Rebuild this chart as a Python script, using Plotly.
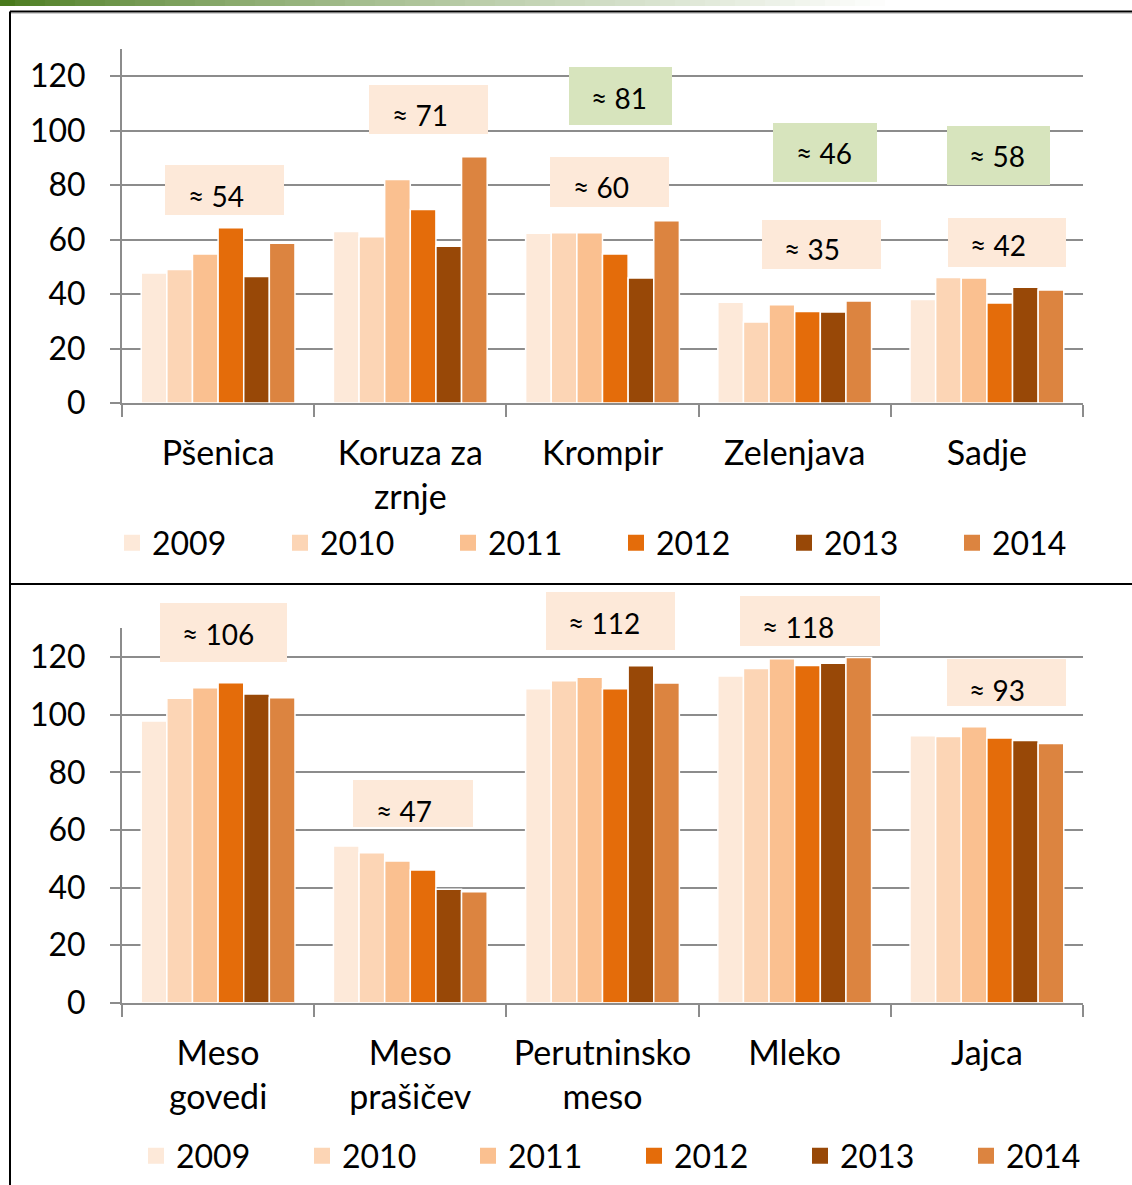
import plotly.graph_objects as go

# ---------------- data ----------------
years = ["2009", "2010", "2011", "2012", "2013", "2014"]
colors = ["#fde9d9", "#fcd5b5", "#fac090", "#e46c0a", "#984807", "#dc8440"]

crops = ["Pšenica", "Koruza za<br>zrnje", "Krompir", "Zelenjava", "Sadje"]
crop_2009 = [47.7, 62.9, 62.3, 37.0, 38.0]
crop_2010 = [49.0, 61.0, 62.5, 29.7, 46.1]
crop_2011 = [54.7, 82.0, 62.5, 36.1, 45.9]
crop_2012 = [64.3, 71.0, 54.7, 33.6, 36.7]
crop_2013 = [46.4, 57.5, 45.9, 33.4, 42.5]
crop_2014 = [58.6, 90.4, 66.9, 37.4, 41.5]

animal = ["Meso<br>govedi", "Meso<br>prašičev", "Perutninsko<br>meso", "Mleko", "Jajca"]
animal_2009 = [97.8, 54.4, 109.0, 113.4, 92.7]
animal_2010 = [105.7, 52.1, 111.8, 116.0, 92.4]
animal_2011 = [109.4, 49.2, 113.0, 119.4, 95.8]
animal_2012 = [111.1, 46.1, 109.0, 117.1, 91.9]
animal_2013 = [107.2, 39.4, 117.0, 117.9, 91.0]
animal_2014 = [105.9, 38.5, 111.0, 119.9, 90.0]

crop_avg_labels = ["≈ 54", "≈ 71", "≈ 60", "≈ 35", "≈ 42"]
crop_ref_labels = ["≈ 81", "≈ 46", "≈ 58"]          # Krompir, Zelenjava, Sadje
animal_avg_labels = ["≈ 106", "≈ 47", "≈ 112", "≈ 118", "≈ 93"]

y_ticks = [0, 20, 40, 60, 80, 100, 120]

crop_series = [crop_2009, crop_2010, crop_2011, crop_2012, crop_2013, crop_2014]
animal_series = [animal_2009, animal_2010, animal_2011, animal_2012, animal_2013, animal_2014]

# ---------------- layout helpers ----------------
W, H = 1132, 1185
FONT = "Lato, 'Open Sans', sans-serif"
GRID = "#8c8c8c"
PEACH = "#fde9d9"
GREEN = "#d7e4bd"


def fx(p):
    return p / W


def fy(p):
    return 1 - p / H


fig = go.Figure()

panels = [(crops, crop_series, "x", "y", "legend"),
          (animal, animal_series, "x2", "y2", "legend2")]
for cats, series, xa, ya, lg in panels:
    for i, yr in enumerate(years):
        fig.add_trace(go.Bar(
            x=cats, y=series[i], name=yr, marker_color=colors[i],
            marker_line=dict(color="white", width=1.5),
            xaxis=xa, yaxis=ya, showlegend=False, legendgroup=lg + yr,
        ))
    # legend entries (square swatches like the original)
    for i, yr in enumerate(years):
        fig.add_trace(go.Scatter(
            x=[None], y=[None], mode="markers", name=yr,
            marker=dict(symbol="square", size=18, color=colors[i],
                        line=dict(width=0)),
            xaxis=xa, yaxis=ya, legend=lg, legendgroup=lg + yr,
            hoverinfo="skip",
        ))

axis_common = dict(
    showline=True, linecolor=GRID, linewidth=2,
    ticks="outside", tickcolor=GRID, tickwidth=2,
    tickfont=dict(family=FONT, size=32, color="black"),
    automargin=False,
)
xcommon = dict(axis_common, type="category", tickson="boundaries", ticklen=12,
               showgrid=False, ticklabelstandoff=19,
               tickfont=dict(family=FONT, size=34, color="black"))
ycommon = dict(axis_common, range=[0, 130], tickvals=y_ticks, ticklen=10,
               showgrid=True, gridcolor=GRID, gridwidth=2, zeroline=False,
               ticklabelstandoff=18)

legend_common = dict(
    orientation="h", xanchor="left", yanchor="middle",
    font=dict(family=FONT, size=32, color="black"),
    bgcolor="rgba(0,0,0,0)", entrywidthmode="pixels", traceorder="normal",
    itemclick=False, itemdoubleclick=False,
)

fig.update_layout(
    width=W, height=H, margin=dict(l=0, r=0, t=0, b=0, autoexpand=False),
    paper_bgcolor="white", plot_bgcolor="white",
    barmode="group", bargap=0.2, bargroupgap=0,
    font=dict(family=FONT, color="black"),
    xaxis=dict(xcommon, domain=[fx(122), fx(1083)], anchor="y"),
    yaxis=dict(ycommon, domain=[fy(403), fy(48.75)], anchor="x"),
    xaxis2=dict(xcommon, domain=[fx(122), fx(1083)], anchor="y2"),
    yaxis2=dict(ycommon, domain=[fy(1002.7), fy(628.3)], anchor="x2"),
    legend=dict(legend_common, x=fx(112), y=fy(543), entrywidth=123),
    legend2=dict(legend_common, x=fx(136), y=fy(1156), entrywidth=121),
)

shapes = []
annotations = []

# green gradient band at top
steps = 60
start = (72, 122, 28)
for k in range(steps):
    t = k / (steps - 1)
    tt = t ** 0.75
    c = tuple(int(round(s + (255 - s) * tt)) for s in start)
    shapes.append(dict(type="rect", xref="paper", yref="paper",
                       x0=fx(k * 900 / steps), x1=fx((k + 1) * 900 / steps + 1),
                       y0=fy(6), y1=fy(0), line_width=0,
                       fillcolor="rgb(%d,%d,%d)" % c, layer="below"))

# frame lines
frame = dict(type="line", xref="paper", yref="paper", line=dict(color="black", width=2))
shapes.append(dict(frame, x0=fx(10), x1=fx(W + 5), y0=fy(11.5), y1=fy(11.5)))
shapes.append(dict(frame, x0=fx(10), x1=fx(10), y0=fy(11.5), y1=fy(H + 5)))
shapes.append(dict(frame, x0=fx(10), x1=fx(W + 5), y0=fy(584), y1=fy(584)))
shapes.append(dict(type="line", xref="paper", yref="paper", x0=fx(11), x1=fx(W + 5),
                   y0=fy(13.5), y1=fy(13.5), line=dict(color="#cfcfcf", width=1)))


def add_box(label, x0, x1, y0, y1, fill, tx, ty):
    shapes.append(dict(type="rect", xref="paper", yref="paper",
                       x0=fx(x0), x1=fx(x1), y0=fy(y1), y1=fy(y0),
                       fillcolor=fill, line_width=0, layer="above"))
    annotations.append(dict(text=label, xref="paper", yref="paper",
                            x=fx(tx), y=fy(ty), xanchor="left", yanchor="middle",
                            showarrow=False, font=dict(family=FONT, size=28, color="black")))


# top chart label boxes (pixel placement of decorative text boxes)
top_boxes = [(165, 284, 165, 215, 186, 196), (369, 488, 85, 134, 390, 115),
             (550, 669, 157, 207, 571, 187), (762, 881, 220, 269, 782, 249),
             (948, 1066, 218, 267, 968, 245)]
for lab, b in zip(crop_avg_labels, top_boxes):
    add_box(lab, *b[:4], PEACH, b[4], b[5])
green_boxes = [(569, 672, 67, 125, 589, 98), (773, 877, 123, 182, 794, 153),
               (947, 1050, 126, 185, 967, 156)]
for lab, b in zip(crop_ref_labels, green_boxes):
    add_box(lab, *b[:4], GREEN, b[4], b[5])

bot_boxes = [(160, 287, 603, 662, 180, 634), (353, 473, 780, 827, 374, 811),
             (546, 675, 592, 650, 566, 623), (740, 880, 596, 646, 760, 627),
             (947, 1066, 659, 706, 967, 690)]
for lab, b in zip(animal_avg_labels, bot_boxes):
    add_box(lab, *b[:4], PEACH, b[4], b[5])

fig.update_layout(shapes=shapes, annotations=annotations)

fig.write_html(
    "out.html",
    config={"displayModeBar": False},
    post_script="document.body.style.margin='0';document.body.style.overflow='hidden';",
)
